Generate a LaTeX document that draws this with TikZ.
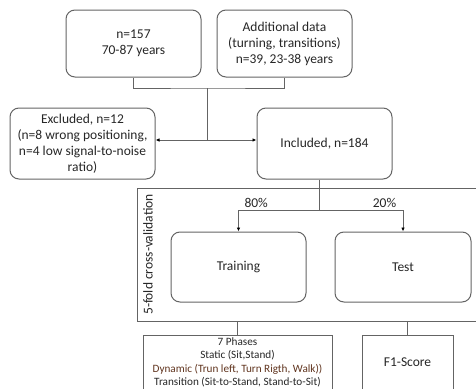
\documentclass[tikz,border=0pt]{standalone}
\usepackage{fontspec}
\setmainfont{Carlito}
\usetikzlibrary{arrows.meta}
\definecolor{boxgray}{RGB}{100,100,100}
\definecolor{txtgray}{RGB}{38,38,38}
\definecolor{dynbrown}{RGB}{96,52,30}

\begin{document}
\begin{tikzpicture}[x=1pt,y=-1pt,
    every node/.style={text=txtgray,font=\fontsize{13.5}{16}\selectfont},
    rbox/.style={rectangle,rounded corners=9pt,draw=boxgray,line width=1pt,align=center,inner sep=0pt},
    sbox/.style={rectangle,draw=boxgray,line width=1pt,align=center,inner sep=0pt},
    conn/.style={draw=boxgray,line width=0.9pt},
    >={Latex[length=4pt,width=3.5pt,color=black]}]
\useasboundingbox (0,0) rectangle (476,388);
\clip (0,0) rectangle (476,388);
\node (pop)      at (133.5,43.5)  [rbox,minimum width=135pt,minimum height=67pt] {n=157\\70-87 years};
\node (extra)    at (284.5,43.5)  [rbox,minimum width=135pt,minimum height=67pt] {Additional data\\(turning, transitions)\\n=39, 23-38 years};
\node (excl)     at (82.5,143.5)  [rbox,minimum width=145pt,minimum height=71pt] {Excluded, n=12\\(n=8 wrong positioning,\\n=4 low signal-to-noise\\ratio)};
\node (incl)     at (324.5,143.5) [rbox,minimum width=135pt,minimum height=71pt] {Included, n=184};
% cross-validation frame runs past the right edge
\node (cv)       at (312,254.5)   [sbox,minimum width=350pt,minimum height=133pt] {};
\node (cvlabel)  at (148,254.5)   [rotate=90] {5-fold cross-validation};
\node (training) at (238.5,267)   [rbox,minimum width=135pt,minimum height=70pt] {Training};
\node (test)     at (403,267)     [rbox,minimum width=136pt,minimum height=70pt] {Test};
\node (phases)   at (237.5,362.5) [sbox,minimum width=189pt,minimum height=55pt,
    font=\fontsize{11.2}{13.3}\selectfont] {7 Phases\\Static (Sit,Stand)\\\textcolor{dynbrown}{Dynamic (Trun left, Turn Rigth, Walk))}\\Transition (Sit-to-Stand, Stand-to-Sit)};
\node (f1)       at (407.5,362.5) [sbox,minimum width=91pt,minimum height=55pt] {F1-Score};
\coordinate (merge) at (207,88);
\coordinate (split) at (207,140);
\coordinate (fork)  at (319,210);
\draw [conn] (pop.south) |- (merge) -| (extra.south);
\draw [conn] (merge) -- (split);
\draw [conn,->] (split) -- (split -| excl.east);
\draw [conn,->] (split) -- (split -| incl.west);
\draw [conn] (incl.south -| fork) -- (fork);
\draw [conn,->] (fork) -| node [pos=0.39,above,inner sep=1.5pt] {80\%} (training.north);
\draw [conn,->] (fork) -| node [pos=0.39,above,inner sep=1.5pt] {20\%} (test.north);
\draw [conn] (phases.north) -- (phases.north |- cv.south);
\draw [conn] (f1.north) -- (f1.north |- cv.south);
\end{tikzpicture}
\end{document}
